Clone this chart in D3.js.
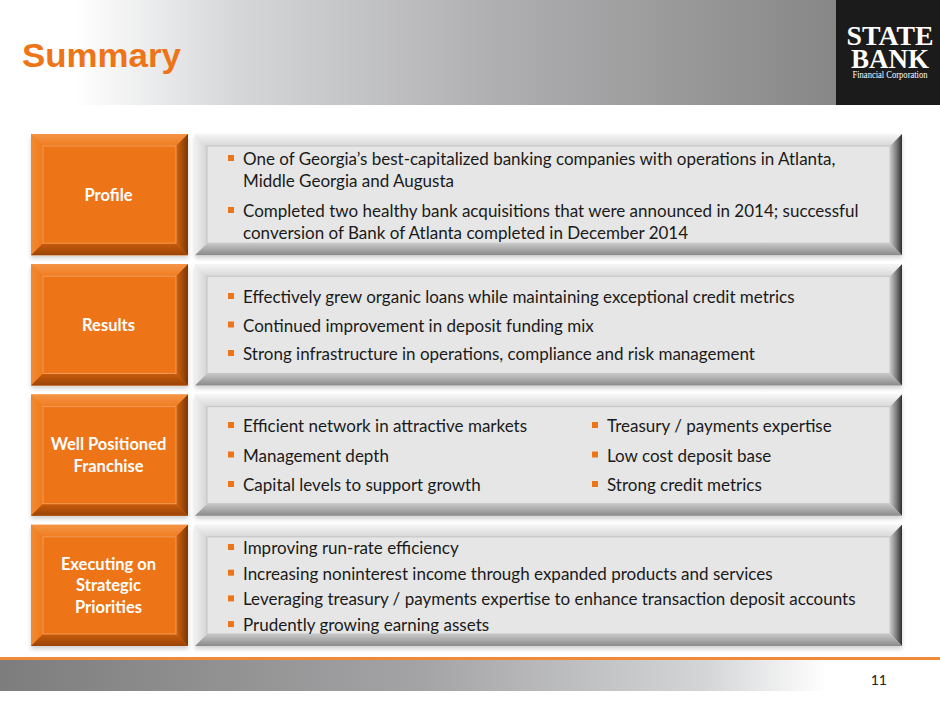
<!DOCTYPE html>
<html>
<head>
<meta charset="utf-8">
<script src="https://cdn.jsdelivr.net/npm/d3@7"></script>
<style>
  body { margin: 0; background: #fff; }
  svg { display: block; }
</style>
</head>
<body>
<div id="slide"></div>
<script>
// slide content
const rowLabels = [
    ["Profile"],
    ["Results"],
    ["Well Positioned", "Franchise"],
    ["Executing on", "Strategic", "Priorities"]
];

const profileBullets = [
    ["One of Georgia\u2019s best-capitalized banking companies with operations in Atlanta,", "Middle Georgia and Augusta"],
    ["Completed two healthy bank acquisitions that were announced in 2014; successful", "conversion of Bank of Atlanta completed in December 2014"]
];
const resultsBullets = [
    "Effectively grew organic loans while maintaining exceptional credit metrics",
    "Continued improvement in deposit funding mix",
    "Strong infrastructure in operations, compliance and risk management"
];
const franchiseLeft = ["Efficient network in attractive markets", "Management depth", "Capital levels to support growth"];
const franchiseRight = ["Treasury / payments expertise", "Low cost deposit base", "Strong credit metrics"];
const priorityBullets = [
    "Improving run-rate efficiency",
    "Increasing noninterest income through expanded products and services",
    "Leveraging treasury / payments expertise to enhance transaction deposit accounts",
    "Prudently growing earning assets"
];

const title = "Summary";
const pageNumber = "11";

const width = 940, height = 705;
const orange = "#ee7418";
const font = "Lato, 'Open Sans', sans-serif";
const fs = 17;

const svg = d3.select("#slide").append("svg")
    .attr("width", width)
    .attr("height", height);

const defs = svg.append("defs");

function linGrad(id, x1, y1, x2, y2, stops) {
    const g = defs.append("linearGradient").attr("id", id)
        .attr("x1", x1).attr("y1", y1).attr("x2", x2).attr("y2", y2);
    stops.forEach(s => g.append("stop").attr("offset", s[0]).attr("stop-color", s[1]));
}

linGrad("headGrad", "0%", "0%", "100%", "0%", [
    ["0%", "#ffffff"], ["9%", "#ffffff"], ["28%", "#d6d7d9"], ["60%", "#aeaeb0"], ["100%", "#878787"]
]);
linGrad("footGrad", "0%", "0%", "100%", "0%", [
    ["0%", "#7d7d7d"], ["45%", "#a4a4a6"], ["75%", "#d4d5d7"], ["88%", "#ffffff"], ["100%", "#ffffff"]
]);
// bevel edge gradients (inner -> outer)
linGrad("gR", "0%", "0%", "100%", "0%", [["0%", "#c9c9c9"], ["55%", "#7a7a7a"], ["100%", "#2e2e2e"]]);
linGrad("gB", "0%", "0%", "0%", "100%", [["0%", "#c8c8c8"], ["100%", "#8a8a8a"]]);
linGrad("gT", "0%", "100%", "0%", "0%", [["0%", "#d8d8d8"], ["100%", "#f6f6f6"]]);
linGrad("gL", "100%", "0%", "0%", "0%", [["0%", "#d4d4d4"], ["100%", "#f0f0f0"]]);
linGrad("oR", "0%", "0%", "100%", "0%", [["0%", "#d0630f"], ["100%", "#7a3606"]]);
linGrad("oB", "0%", "0%", "0%", "100%", [["0%", "#c85c0c"], ["100%", "#9a4407"]]);
linGrad("oT", "0%", "100%", "0%", "0%", [["0%", "#f07d22"], ["100%", "#f49445"]]);
linGrad("oL", "100%", "0%", "0%", "0%", [["0%", "#ef7a1c"], ["100%", "#f28a33"]]);

const shadow = defs.append("filter").attr("id", "shadow")
    .attr("x", "-5%").attr("y", "-5%").attr("width", "110%").attr("height", "120%");
shadow.append("feDropShadow").attr("dx", 0).attr("dy", 3).attr("stdDeviation", 2)
    .attr("flood-color", "#000").attr("flood-opacity", 0.18);

// header band
svg.append("rect").attr("x", 0).attr("y", 0).attr("width", 836).attr("height", 105)
    .attr("fill", "url(#headGrad)");
svg.append("rect").attr("x", 836).attr("y", 0).attr("width", 104).attr("height", 105)
    .attr("fill", "#1b1b1b");

svg.append("text").attr("x", 22).attr("y", 67)
    .attr("font-family", "'Liberation Sans', Arial, sans-serif")
    .attr("font-weight", "bold").attr("font-size", 34)
    .attr("textLength", 159).attr("lengthAdjust", "spacingAndGlyphs")
    .attr("fill", orange).text(title);

// logo
const logo = svg.append("g").attr("fill", "#fff")
    .attr("font-family", "'Liberation Serif', 'DejaVu Serif', serif")
    .attr("text-anchor", "middle");
logo.append("text").attr("x", 890).attr("y", 45).attr("font-size", 27).attr("font-weight", "bold")
    .attr("textLength", 87).attr("lengthAdjust", "spacingAndGlyphs").text("STATE");
logo.append("text").attr("x", 890).attr("y", 68).attr("font-size", 27).attr("font-weight", "bold")
    .attr("textLength", 78).attr("lengthAdjust", "spacingAndGlyphs").text("BANK");
logo.append("text").attr("x", 890).attr("y", 78).attr("font-size", 9.5)
    .attr("textLength", 75).attr("lengthAdjust", "spacingAndGlyphs").text("Financial Corporation");

// footer
svg.append("rect").attr("x", 0).attr("y", 657).attr("width", width).attr("height", 3)
    .attr("fill", "#f08a3a");
svg.append("rect").attr("x", 0).attr("y", 660).attr("width", width).attr("height", 31)
    .attr("fill", "url(#footGrad)");
svg.append("text").attr("x", 887).attr("y", 685).attr("text-anchor", "end")
    .attr("font-family", font).attr("font-size", 14).attr("fill", "#222").text(pageNumber);

// rows
const yRow = d3.scaleBand()
    .domain(d3.range(rowLabels.length))
    .range([134, 646])
    .paddingInner(0.07)
    .paddingOuter(0);
const xCol = d3.scaleOrdinal().domain(["label", "body"]).range([31, 195]);
const colW = { label: 157, body: 707 };
const bev = 12;

function bevelBox(g, x, y, w, h, kind) {
    const p = kind === "o" ? "o" : "g";
    g.append("rect").attr("x", x).attr("y", y).attr("width", w).attr("height", h)
        .attr("fill", kind === "o" ? orange : "#e6e6e6").attr("filter", "url(#shadow)");
    const line = d3.line();
    const x0 = x, x1 = x + w, y0 = y, y1 = y + h;
    const ix0 = x + bev, ix1 = x + w - bev, iy0 = y + bev, iy1 = y + h - bev;
    g.append("path").attr("d", line([[x0, y0], [x1, y0], [ix1, iy0], [ix0, iy0]]) + "Z").attr("fill", `url(#${p}T)`);
    g.append("path").attr("d", line([[x0, y0], [ix0, iy0], [ix0, iy1], [x0, y1]]) + "Z").attr("fill", `url(#${p}L)`);
    g.append("path").attr("d", line([[x1, y0], [x1, y1], [ix1, iy1], [ix1, iy0]]) + "Z").attr("fill", `url(#${p}R)`);
    g.append("path").attr("d", line([[x0, y1], [ix0, iy1], [ix1, iy1], [x1, y1]]) + "Z").attr("fill", `url(#${p}B)`);
    g.append("rect").attr("x", ix0).attr("y", iy0).attr("width", ix1 - ix0).attr("height", iy1 - iy0)
        .attr("fill", kind === "o" ? orange : "#e6e6e6")
        .attr("stroke", kind === "o" ? "#f49a52" : "#c4c4c4").attr("stroke-width", 1);
}

function bullet(g, x, y, txt) {
    g.append("rect").attr("x", x).attr("y", y - 10).attr("width", 6).attr("height", 6).attr("fill", orange);
    g.append("text").attr("x", x + 15).attr("y", y)
        .attr("font-family", font).attr("font-size", fs).attr("fill", "#1a1a1a").text(txt);
}

const bodies = [
    g => {
        // profile: two wrapped bullets
        const base = [165, 217];
        profileBullets.forEach((lines, i) => {
            bullet(g, 228, base[i], lines[0]);
            g.append("text").attr("x", 243).attr("y", base[i] + 22)
                .attr("font-family", font).attr("font-size", fs).attr("fill", "#1a1a1a").text(lines[1]);
        });
    },
    g => resultsBullets.forEach((t, i) => bullet(g, 228, 303 + i * 28.5, t)),
    g => {
        franchiseLeft.forEach((t, i) => bullet(g, 228, 432 + i * 29.5, t));
        franchiseRight.forEach((t, i) => bullet(g, 592, 432 + i * 29.5, t));
    },
    g => priorityBullets.forEach((t, i) => bullet(g, 228, 554 + i * 25.7, t))
];

rowLabels.forEach((lines, i) => {
    const g = svg.append("g");
    const y = yRow(i), h = yRow.bandwidth();
    bevelBox(g, xCol("label"), y, colW.label, h, "o");
    bevelBox(g, xCol("body"), y, colW.body, h, "g");
    const cy = y + h / 2;
    const lh = 21.5;
    lines.forEach((t, k) => {
        g.append("text")
            .attr("x", xCol("label") + colW.label / 2 - 1)
            .attr("y", cy + (k - (lines.length - 1) / 2) * lh + 6)
            .attr("text-anchor", "middle")
            .attr("font-family", font).attr("font-weight", "bold").attr("font-size", 16.5)
            .attr("fill", "#fff").text(t);
    });
    bodies[i](g);
});
</script>
</body>
</html>
